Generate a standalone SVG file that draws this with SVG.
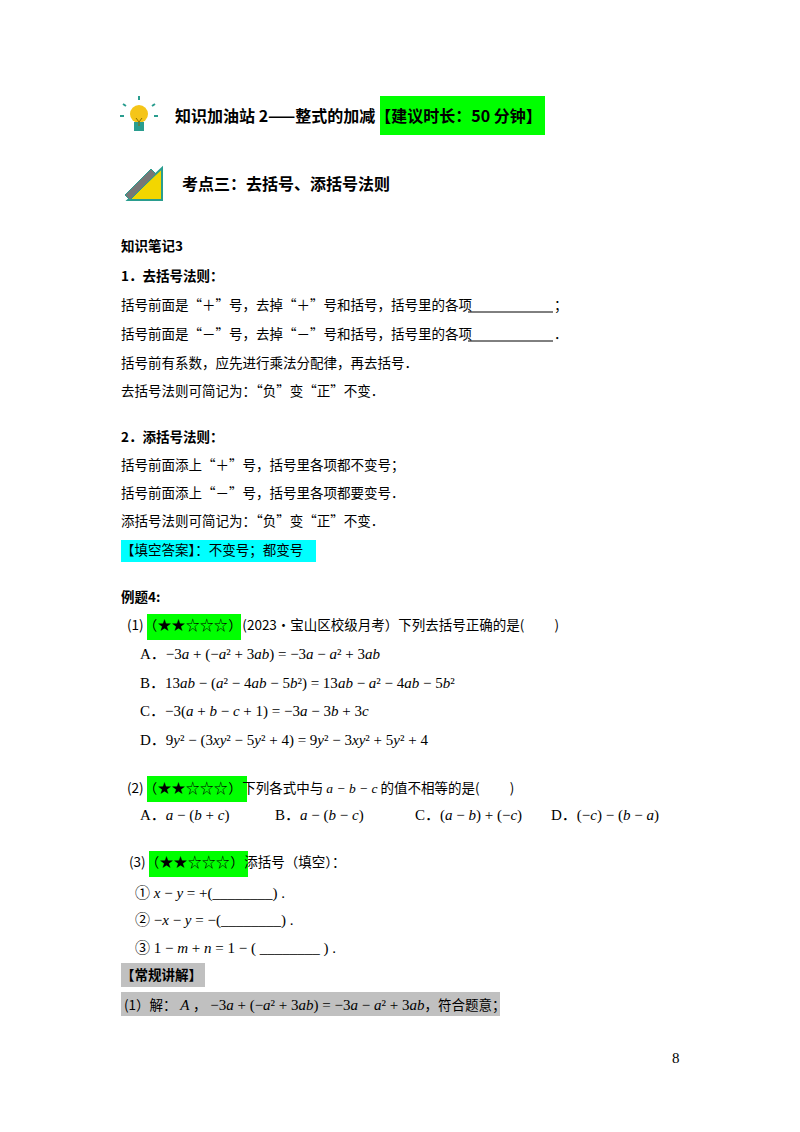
<svg xmlns="http://www.w3.org/2000/svg" width="800" height="1132" viewBox="0 0 800 1132">
<style>
text{font-family:"Liberation Serif","Noto Sans CJK SC",serif;font-size:15px;fill:#000}
.b{font-weight:bold}
.h{font-size:16px;font-weight:bold;font-family:"Noto Sans CJK SC",sans-serif}
.c{font-family:"Noto Sans CJK SC",sans-serif;font-size:13.5px}
.m{font-style:italic}
.g{fill:#00ff00}
.s{letter-spacing:0.6px}
</style>
<rect width="800" height="1132" fill="#fff"/>
<g id="icon-bulb">
<circle cx="139" cy="114" r="9" fill="#f5c518"/>
<rect x="134" y="122" width="10" height="9" fill="#2a9d8f"/>
<path d="M139 100v-4M126 106l-3-2M152 106l3-2M124 116h-4M154 116h4" stroke="#2a9d8f" stroke-width="2"/>
<path d="M136 118l3 4 3-4M139 122v4" stroke="#8a6d00" fill="none"/>
</g>
<g id="icon-pencil">
<polygon points="128,200 162,200 162,168" fill="#f2d600" stroke="#2a9d8f" stroke-width="2"/>
<path d="M125 195l26-26 5 5-26 26z" fill="#777" stroke="#2a9d8f"/>
</g>
<g id="header">
<rect x="380" y="96" width="165" height="39" class="g"/>
<text x="175" y="122" class="h">知识加油站 2——整式的加减【建议时长：50 分钟】</text>
<text x="182" y="190" class="h">考点三：去括号、添括号法则</text>
</g>
<g id="notes">
<text x="121" y="251" class="b c" font-size="14">知识笔记3</text>
<text x="121" y="281" class="b c">1．去括号法则：</text>
<text x="121" y="310" class="c">括号前面是“＋”号，去掉“＋”号和括号，括号里的各项</text>
<line x1="468" y1="312" x2="553" y2="312" stroke="#000"/><text x="554" y="310" class="c">；</text>
<text x="121" y="339" class="c">括号前面是“－”号，去掉“－”号和括号，括号里的各项</text>
<line x1="468" y1="341" x2="553" y2="341" stroke="#000"/><text x="554" y="339" class="c">．</text>
<text x="121" y="368" class="c">括号前有系数，应先进行乘法分配律，再去括号．</text>
<text x="121" y="396" class="c">去括号法则可简记为：“负”变“正”不变．</text>
<text x="121" y="442" class="b c">2．添括号法则：</text>
<text x="121" y="470" class="c">括号前面添上“＋”号，括号里各项都不变号；</text>
<text x="121" y="498" class="c">括号前面添上“－”号，括号里各项都要变号．</text>
<text x="121" y="526" class="c">添括号法则可简记为：“负”变“正”不变．</text>
<rect x="121" y="540" width="195" height="22" fill="#00ffff"/>
<text x="121" y="555" class="c">【填空答案】：不变号；都变号</text>
</g>
<g id="example">
<text x="121" y="602" class="b c">例题4:</text>
<rect x="147" y="614" width="94" height="26" class="g"/>
<text x="127" y="630" class="c">(1)<tspan class="s">（★★☆☆☆）</tspan>(2023•宝山区校级月考）下列去括号正确的是(　　 )</text>
<text x="140" y="659">A．−3<tspan class="m">a</tspan> + (−<tspan class="m">a</tspan>² + 3<tspan class="m">ab</tspan>) = −3<tspan class="m">a</tspan> − <tspan class="m">a</tspan>² + 3<tspan class="m">ab</tspan></text>
<text x="140" y="688">B．13<tspan class="m">ab</tspan> − (<tspan class="m">a</tspan>² − 4<tspan class="m">ab</tspan> − 5<tspan class="m">b</tspan>²) = 13<tspan class="m">ab</tspan> − <tspan class="m">a</tspan>² − 4<tspan class="m">ab</tspan> − 5<tspan class="m">b</tspan>²</text>
<text x="140" y="716">C．−3(<tspan class="m">a</tspan> + <tspan class="m">b</tspan> − <tspan class="m">c</tspan> + 1) = −3<tspan class="m">a</tspan> − 3<tspan class="m">b</tspan> + 3<tspan class="m">c</tspan></text>
<text x="140" y="745">D．9<tspan class="m">y</tspan>² − (3<tspan class="m">xy</tspan>² − 5<tspan class="m">y</tspan>² + 4) = 9<tspan class="m">y</tspan>² − 3<tspan class="m">xy</tspan>² + 5<tspan class="m">y</tspan>² + 4</text>
<rect x="147" y="776" width="100" height="26" class="g"/>
<text x="127" y="793" class="c">(2)<tspan class="s">（★★☆☆☆）</tspan>下列各式中与 <tspan class="m" font-family="Liberation Serif">a − b − c</tspan> 的值不相等的是(　　 )</text>
<text x="140" y="820">A．<tspan class="m">a</tspan> − (<tspan class="m">b</tspan> + <tspan class="m">c</tspan>)</text>
<text x="275" y="820">B．<tspan class="m">a</tspan> − (<tspan class="m">b</tspan> − <tspan class="m">c</tspan>)</text>
<text x="415" y="820">C．(<tspan class="m">a</tspan> − <tspan class="m">b</tspan>) + (−<tspan class="m">c</tspan>)</text>
<text x="551" y="820">D．(−<tspan class="m">c</tspan>) − (<tspan class="m">b</tspan> − <tspan class="m">a</tspan>)</text>
<rect x="149" y="851" width="99" height="26" class="g"/>
<text x="129" y="867" class="c">(3)<tspan class="s">（★★☆☆☆）</tspan>添括号（填空）：</text>
<text x="135" y="898">① <tspan class="m">x</tspan> − <tspan class="m">y</tspan> = +(________) .</text>
<text x="135" y="925">② −<tspan class="m">x</tspan> − <tspan class="m">y</tspan> = −(________) .</text>
<text x="135" y="953">③ 1 − <tspan class="m">m</tspan> + <tspan class="m">n</tspan> = 1 − ( ________ ) .</text>
<rect x="121" y="963" width="84" height="24" fill="#c0c0c0"/>
<text x="121" y="980" class="b c">【常规讲解】</text>
<rect x="121" y="992" width="379" height="24" fill="#c0c0c0"/>
<text x="124" y="1010" class="c">(1）解：<tspan class="m" font-family="Liberation Serif" font-size="15"> A </tspan>，<tspan font-family="Liberation Serif" font-size="15"> −3<tspan class="m">a</tspan> + (−<tspan class="m">a</tspan>² + 3<tspan class="m">ab</tspan>) = −3<tspan class="m">a</tspan> − <tspan class="m">a</tspan>² + 3<tspan class="m">ab</tspan></tspan>，符合题意；</text>
</g>
<text x="672" y="1063" font-size="12">8</text>
</svg>
